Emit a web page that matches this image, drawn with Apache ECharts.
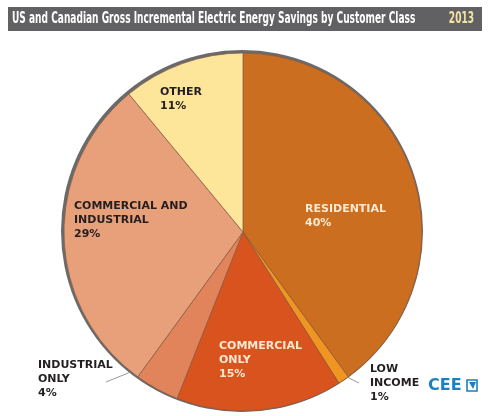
<!DOCTYPE html>
<html>
<head>
<meta charset="utf-8">
<title></title>
<script type="text/javascript" src="https://cdn.jsdelivr.net/npm/echarts@6/dist/echarts.min.js"></script>
</head>
<body style="margin:0;background:#fff;">
<div id="main" style="width:500px;height:416px;"></div>
<script type="text/javascript">
// data
var titleText = 'US and Canadian Gross Incremental Electric Energy Savings by Customer Class';
var yearText = '2013';
var classNames = ['RESIDENTIAL', 'LOW\nINCOME', 'COMMERCIAL\nONLY', 'INDUSTRIAL\nONLY', 'COMMERCIAL AND\nINDUSTRIAL', 'OTHER'];
var shares = [40, 1, 15, 4, 29, 11];

// styles
var sliceColors = ['#cc6e1f', '#f0951f', '#d9531f', '#e2845b', '#e8a07a', '#fde59a'];
var lightText = '#fde9cf', darkText = '#231f20';
var labelColors = [lightText, darkText, lightText, darkText, darkText, darkText];

// pie geometry
var cx = 243, cy = 232, R = 179;
// label top-left offsets from pie centre
var labelOffsets = [[62, -30], [127, 130], [-24, 107], [-205, 126], [-169, -33], [-83, -147]];
// leader lines (offsets from centre), only for outside labels
var leaderLines = {
    1: [[116, 151], [104, 145]],
    3: [[-137, 150], [-85, 129]]
};

var myChart = echarts.init(document.getElementById('main'));

var pieData = [];
for (var i = 0; i < shares.length; i++) {
    pieData.push({
        name: classNames[i],
        value: shares[i],
        itemStyle: { color: sliceColors[i] },
        label: { color: labelColors[i] },
        labelLine: { show: !!leaderLines[i] }
    });
}

var titleFont = 'bold 15px "Liberation Sans Narrow", "DejaVu Sans Condensed", sans-serif';

myChart.setOption({
    animation: false,
    graphic: [
        { type: 'rect', shape: { x: 8, y: 7, width: 474, height: 24 }, style: { fill: '#616163' } },
        { type: 'text', x: 12, y: 19, scaleX: 0.67,
          style: { text: titleText, fill: '#ffffff', font: titleFont, textVerticalAlign: 'middle' } },
        { type: 'text', x: 474, y: 19, scaleX: 0.67,
          style: { text: yearText, fill: '#f3e3a4', font: titleFont, textAlign: 'right', textVerticalAlign: 'middle' } },
        { type: 'circle', z: -1, shape: { cx: cx - 1, cy: cy - 1, r: R + 2 }, style: { fill: '#6a6a6a' } },
        { type: 'text', x: 428, y: 386,
          style: { text: 'CEE', fill: '#1b7fc1', font: 'bold 16px "DejaVu Sans", sans-serif', textVerticalAlign: 'middle' } },
        { type: 'rect', shape: { x: 467, y: 380, width: 10, height: 11 }, style: { fill: 'none', stroke: '#1b7fc1', lineWidth: 1.6 } },
        { type: 'polygon', shape: { points: [[469, 382], [476, 382], [473, 389]] }, style: { fill: '#1b7fc1' } }
    ],
    series: [{
        name: 'Customer Class',
        type: 'pie',
        center: [cx, cy],
        radius: R,
        startAngle: 90,
        clockwise: true,
        avoidLabelOverlap: false,
        silent: true,
        itemStyle: { borderColor: '#8a5a40', borderWidth: 0.7 },
        label: {
            show: true,
            position: 'outside',
            formatter: function (p) { return p.name + '\n' + p.value + '%'; },
            fontFamily: '"DejaVu Sans", sans-serif',
            fontWeight: 'bold',
            fontSize: 11,
            lineHeight: 14
        },
        labelLine: { lineStyle: { color: '#7d7d7d', width: 0.8 } },
        labelLayout: function (params) {
            var k = params.dataIndex;
            var o = labelOffsets[k];
            var res = { x: cx + o[0], y: cy + o[1], align: 'left', verticalAlign: 'top' };
            if (leaderLines[k]) {
                res.labelLinePoints = leaderLines[k].map(function (p) { return [cx + p[0], cy + p[1]]; });
            }
            return res;
        },
        data: pieData
    }]
});
</script>
</body>
</html>
